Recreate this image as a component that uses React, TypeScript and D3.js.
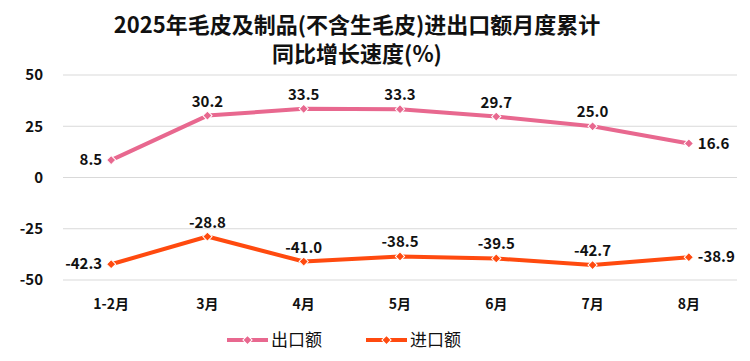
import { useEffect, useRef } from 'react'
import * as d3 from 'd3'

const months = ['1-2月', '3月', '4月', '5月', '6月', '7月', '8月']
const exportGrowth = [8.5, 30.2, 33.5, 33.3, 29.7, 25.0, 16.6]
const importGrowth = [-42.3, -28.8, -41.0, -38.5, -39.5, -42.7, -38.9]
const yTicks = [50, 25, 0, -25, -50]
const seriesNames = ['出口额', '进口额']

const PINK = '#E8688F'
const ORANGE = '#FF4A0F'
const FONT = '"Noto Sans CJK SC", "Noto Sans", sans-serif'

const App = () => {
  const ref = useRef<SVGSVGElement>(null)

  useEffect(() => {
    const w = 750
    const h = 361
    const svg = d3.select(ref.current)
      .attr('width', w)
      .attr('height', h)
      .style('position', 'absolute')
      .style('left', '0px')
      .style('top', '0px')
      .style('background', '#fff')
      .style('font-family', FONT)

    svg.selectAll('*').remove()

    // title
    const title = svg.append('text')
      .attr('text-anchor', 'middle')
      .attr('font-weight', 'bold')
      .attr('font-size', 22)
      .attr('fill', '#111')
    title.append('tspan').attr('x', 357).attr('y', 33).text('2025年毛皮及制品(不含生毛皮)进出口额月度累计')
    title.append('tspan').attr('x', 357).attr('y', 62).text('同比增长速度(%)')

    // scales
    const x = d3.scaleBand().domain(months).range([63, 737])
    const y = d3.scaleLinear().domain([-50, 50]).range([280, 75])
    const cx = (m: string) => (x(m) as number) + x.bandwidth() / 2

    // grid
    svg.append('g')
      .selectAll('line')
      .data(yTicks)
      .enter()
      .append('line')
      .attr('x1', 63)
      .attr('x2', 737)
      .attr('y1', d => y(d))
      .attr('y2', d => y(d))
      .attr('stroke', '#d9d9d9')
      .attr('stroke-width', 1)

    // y labels
    svg.append('g')
      .selectAll('text')
      .data(yTicks)
      .enter()
      .append('text')
      .attr('x', 43)
      .attr('y', d => y(d))
      .attr('dy', '0.35em')
      .attr('text-anchor', 'end')
      .attr('font-weight', 'bold')
      .attr('font-size', 15)
      .attr('fill', '#111')
      .text(d => d)

    // x labels
    svg.append('g')
      .selectAll('text')
      .data(months)
      .enter()
      .append('text')
      .attr('x', d => cx(d))
      .attr('y', 304)
      .attr('dy', '0.35em')
      .attr('text-anchor', 'middle')
      .attr('font-weight', 'bold')
      .attr('font-size', 14)
      .attr('fill', '#111')
      .text(d => d)

    const line = d3.line<number>()
      .x((_, i) => cx(months[i]))
      .y(d => y(d))

    // rotated square marker
    const diamond = d3.symbol().type(d3.symbolSquare).size(42)

    const drawSeries = (vals: number[], color: string, pos: string[]) => {
      svg.append('path')
        .datum(vals)
        .attr('d', line)
        .attr('fill', 'none')
        .attr('stroke', color)
        .attr('stroke-width', 4)
        .attr('stroke-linejoin', 'round')

      svg.append('g')
        .selectAll('path')
        .data(vals)
        .enter()
        .append('path')
        .attr('d', diamond)
        .attr('transform', (d, i) => `translate(${cx(months[i])},${y(d)}) rotate(45)`)
        .attr('fill', color)
        .attr('stroke', '#fff')
        .attr('stroke-width', 1)

      svg.append('g')
        .selectAll('text')
        .data(vals)
        .enter()
        .append('text')
        .attr('x', (d, i) => {
          const p = pos[i]
          if (p === 'left') return cx(months[i]) - 9
          if (p === 'right') return cx(months[i]) + 9
          return cx(months[i])
        })
        .attr('y', (d, i) => pos[i] === 'top' ? y(d) - 9 : y(d))
        .attr('dy', (d, i) => pos[i] === 'top' ? '0' : '0.35em')
        .attr('text-anchor', (d, i) => pos[i] === 'left' ? 'end' : pos[i] === 'right' ? 'start' : 'middle')
        .attr('font-weight', 'bold')
        .attr('font-size', 15)
        .attr('fill', '#111')
        .text(d => d.toFixed(1))
    }

    drawSeries(exportGrowth, PINK, ['left', 'top', 'top', 'top', 'top', 'top', 'right'])
    drawSeries(importGrowth, ORANGE, ['left', 'top', 'top', 'top', 'top', 'top', 'right'])

    // legend
    const legend = svg.append('g')
    const items = [
      { name: seriesNames[0], color: PINK, x0: 227 },
      { name: seriesNames[1], color: ORANGE, x0: 366 },
    ]
    items.forEach(it => {
      const g = legend.append('g')
      g.append('line')
        .attr('x1', it.x0)
        .attr('x2', it.x0 + 41)
        .attr('y1', 340)
        .attr('y2', 340)
        .attr('stroke', it.color)
        .attr('stroke-width', 4)
      g.append('path')
        .attr('d', diamond)
        .attr('transform', `translate(${it.x0 + 20.5},340) rotate(45)`)
        .attr('fill', it.color)
        .attr('stroke', '#fff')
        .attr('stroke-width', 1)
      g.append('text')
        .attr('x', it.x0 + 44)
        .attr('y', 340)
        .attr('dy', '0.35em')
        .attr('font-size', 17)
        .attr('fill', '#111')
        .text(it.name)
    })
  }, [])

  return (
    <div>
      <svg ref={ref}></svg>
    </div>
  )
}

export default App
